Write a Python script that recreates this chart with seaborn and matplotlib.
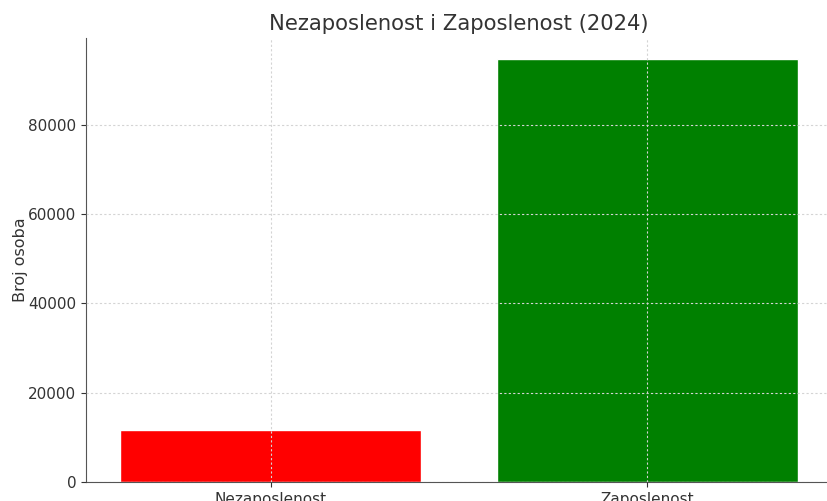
import seaborn as sns
import matplotlib.pyplot as plt
import pandas as pd

categories = ["Nezaposlenost", "Zaposlenost"]
values = [11650, 94650]
colors = ["red", "green"]

sns.set_style("ticks")
plt.rcParams['font.family'] = ['DejaVu Sans']

df = pd.DataFrame({"kategorija": categories, "broj": values})

fig = plt.figure(figsize=(8.28, 5.01), dpi=100)
# the reference is a crop, so the axes run past the right and bottom edge
ax = fig.add_axes([86 / 828, 19 / 501, 746 / 828, 444 / 501])
sns.barplot(data=df, x="kategorija", y="broj", hue="kategorija",
            palette=colors, saturation=1, width=0.8, legend=False, ax=ax)
ax.set_xlim(-0.49, 1.49)

ax.set_axisbelow(False)
ax.grid(True, linestyle=(0, (2, 2)), color="#d4d4d4", linewidth=0.8)
ax.set_title("Nezaposlenost i Zaposlenost (2024)", fontsize=15.2, color="#333333", pad=6)
ax.set_ylabel("Broj osoba", fontsize=11.5, color="#333333", labelpad=0)
ax.set_xlabel("")
ax.tick_params(labelsize=11, colors="#333333")
sns.despine(ax=ax)
for s in ["left", "bottom"]:
    ax.spines[s].set_color("#555555")

fig.savefig("out.png", dpi=100)
